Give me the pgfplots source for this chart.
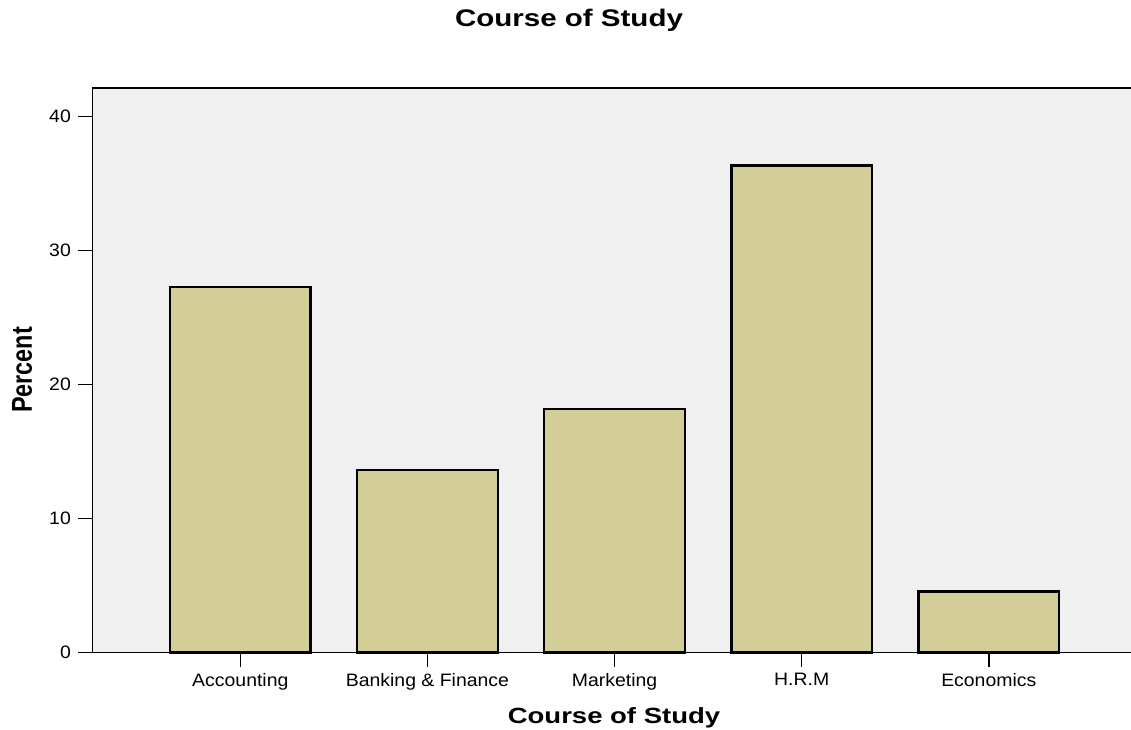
\documentclass[border=0pt]{standalone}
\usepackage{pgfplots}
\pgfplotsset{compat=1.18}
\usepackage{fontspec}
\setmainfont{Liberation Sans}
\definecolor{barfill}{RGB}{211,206,152}
\definecolor{bgc}{RGB}{240,240,240}
\begin{document}
\begin{tikzpicture}
\begin{axis}[name=ax, at={(0,0)}, anchor=south west,
 scale only axis, width=519.25pt, height=282.25pt,
 xmin=-0.79, xmax=4.76, ymin=0, ymax=42.14,
 axis line style={draw=none},
 axis background/.style={fill=bgc},
 ybar, bar width=0.752,
 xtick=data,
 xticklabels={Accounting, Banking \& Finance, Marketing, H.R.M, Economics},
 ytick={0,10,20,30,40},
 tick pos=left, tick align=outside, major tick length=7pt,
 tick style={black, line width=0.75pt},
 ticklabel style={font=\fontsize{9}{10}\selectfont, xscale=1.08},
 /pgf/number format/assume math mode=true,
 clip=false,
]
\addplot[fill=barfill, draw=black, line width=1.2pt] coordinates {(0,27.27) (1,13.64) (2,18.18) (3,36.36) (4,4.55)};
\draw[line width=0.7pt] (rel axis cs:0,0) -- (rel axis cs:0,1) -- (rel axis cs:1,1);
\draw[line width=0.7pt] (rel axis cs:0,0) -- (rel axis cs:1,0);
\end{axis}
\node[font=\bfseries\fontsize{12}{14}\selectfont, xscale=1.23, anchor=base] at ([shift={(238.25pt,312.75pt)}]ax.south west) {Course of Study};
\node[font=\bfseries\fontsize{11}{13}\selectfont, xscale=1.25, anchor=base] at ([shift={(260.75pt,-35.25pt)}]ax.south west) {Course of Study};
\node[font=\bfseries\fontsize{11.7}{13}\selectfont, rotate=90, yscale=1.23, anchor=base] at ([shift={(-30.25pt,141.25pt)}]ax.south west) {Percent};
\pgfresetboundingbox
\useasboundingbox ([shift={(-46.25pt,-38.25pt)}]ax.south west) rectangle ([shift={(519.25pt,326.25pt)}]ax.south west);
\end{tikzpicture}
\end{document}
